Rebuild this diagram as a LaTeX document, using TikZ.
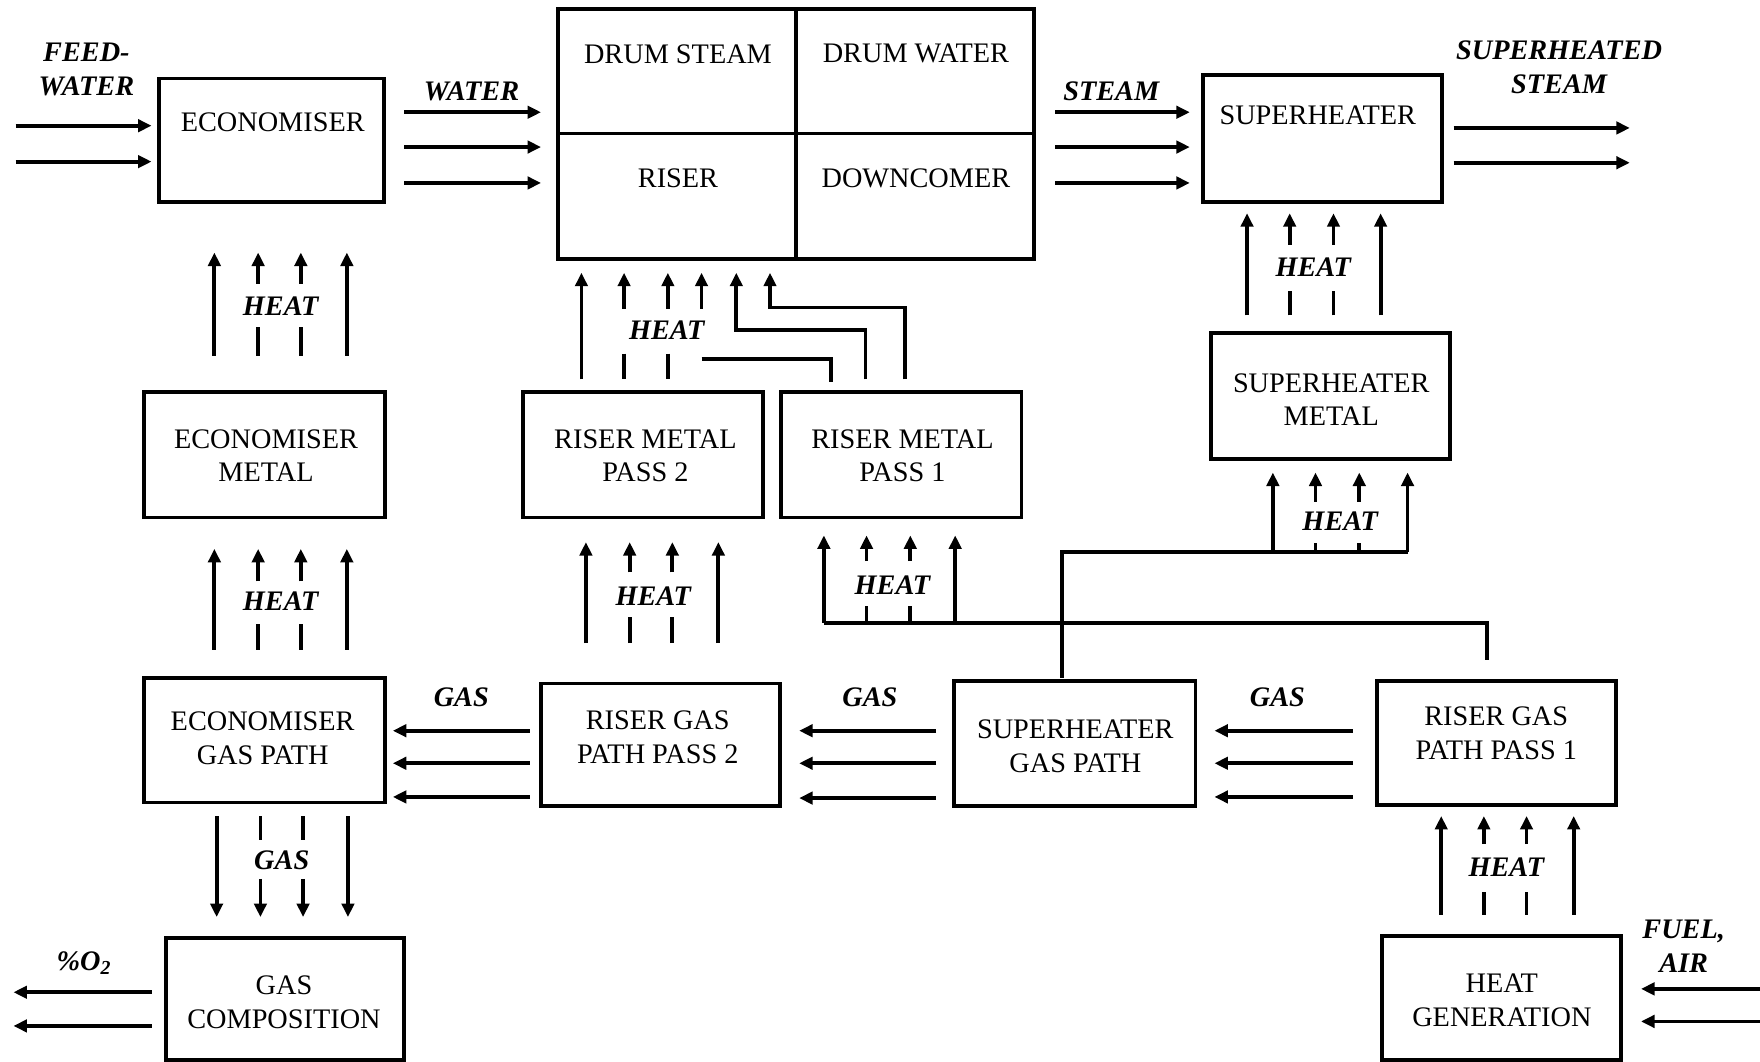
\documentclass[tikz,border=0pt]{standalone}
\usepackage{fontspec}
\setmainfont{Liberation Serif}
\usetikzlibrary{arrows.meta}
\newcommand\mybox[8]{%
  \node[box, minimum width={(#4-#2)*0.5pt}, minimum height={(#5-#3)*0.5pt}] (#1) at ({(#2+#4)/2},{(#3+#5)/2}) {};
  \node[txt] (#1-t) at (#6,#7) {#8};}
\newcommand\heatbundle[9]{%
  \draw[arr] (#1,#6)--(#1,#5); \draw[arr] (#4,#6)--(#4,#5);
  \draw[arr] (#2,#7)--(#2,#5); \draw[arr] (#3,#7)--(#3,#5);
  \draw[ln] (#2,#6)--(#2,#8); \draw[ln] (#3,#6)--(#3,#8);
  \node[lbl] at (#9) {HEAT};}
\begin{document}
\begin{tikzpicture}[x=0.5pt,y=-0.5pt,
  box/.style={draw, line width=1.7pt, inner sep=0pt},
  txt/.style={font=\fontsize{12.6}{15}\selectfont, align=center, inner sep=0pt},
  lbl/.style={font=\fontsize{12.6}{15}\selectfont\bfseries\itshape, align=center, inner sep=0pt},
  ln/.style={line width=1.7pt},
  arr/.style={line width=1.7pt, -{Triangle[length=6pt,width=5.5pt]}},
]
\useasboundingbox (0,0) rectangle (1568,946);

% boxes
\mybox{eco}{142}{70}{342}{180}{243}{109}{ECONOMISER}
\mybox{ds}{497}{8}{709}{119}{604}{48}{DRUM STEAM}
\mybox{dw}{709}{8}{921}{119}{816}{48}{DRUM WATER}
\mybox{ri}{497}{119}{709}{231}{604}{159}{RISER}
\mybox{dc}{709}{119}{921}{231}{816}{159}{DOWNCOMER}
\mybox{sh}{1072}{67}{1285}{180}{1174}{103}{SUPERHEATER}
\mybox{ecom}{128}{349}{343}{461}{237}{406}{ECONOMISER\\METAL}
\mybox{rm2}{466}{349}{680}{461}{575}{406}{RISER METAL\\PASS 2}
\mybox{rm1}{696}{349}{910}{461}{804}{406}{RISER METAL\\PASS 1}
\mybox{shm}{1079}{297}{1292}{409}{1186}{356}{SUPERHEATER\\METAL}
\mybox{egp}{128}{604}{343}{715}{234}{658}{ECONOMISER\\GAS PATH}
\mybox{rgp2}{482}{609}{695}{718}{586}{657}{RISER GAS\\PATH PASS 2}
\mybox{shgp}{850}{607}{1065}{718}{958}{665}{SUPERHEATER\\GAS PATH}
\mybox{rgp1}{1227}{607}{1440}{717}{1333}{653}{RISER GAS\\PATH PASS 1}
\mybox{hg}{1231}{834}{1444}{944}{1338}{891}{HEAT\\GENERATION}
\mybox{gc}{148}{836}{360}{944}{253}{893}{GAS\\COMPOSITION}

% stream labels
\node[lbl] at (77,62) {FEED-\\WATER};
\node[lbl] at (420,81) {WATER};
\node[lbl] at (990,81) {STEAM};
\node[lbl] at (1389,60) {SUPERHEATED\\STEAM};
\node[lbl] at (411,621) {GAS};
\node[lbl] at (775,621) {GAS};
\node[lbl] at (1138,621) {GAS};
\node[lbl] at (75,858) {\%O\textsubscript{2}};
\node[lbl] at (1500,843) {FUEL,\\AIR};

% horizontal flows
\foreach \y in {112,144} \draw[arr] (14,\y) -- (135,\y);
\foreach \y in {100,131,163} \draw[arr] (360,\y) -- (482,\y);
\foreach \y in {100,131,163} \draw[arr] (940,\y) -- (1060,\y);
\foreach \y in {114,145} \draw[arr] (1295,\y) -- (1452,\y);
\foreach \y in {651,680,710} \draw[arr] (472,\y) -- (350,\y);
\foreach \y in {651,680,711} \draw[arr] (834,\y) -- (712,\y);
\foreach \y in {651,680,710} \draw[arr] (1205,\y) -- (1082,\y);
\foreach \y in {884,914} \draw[arr] (135,\y) -- (12,\y);
\foreach \y in {881,910} \draw[arr] (1568,\y) -- (1462,\y);

% gas down to composition
\draw[arr] (193,727) -- (193,817);
\draw[arr] (310,727) -- (310,817);
\draw[ln] (232,727) -- (232,748); \draw[arr] (232,783) -- (232,817);
\draw[ln] (270,727) -- (270,748); \draw[arr] (270,783) -- (270,817);
\node[lbl] at (251,766) {GAS};

% heat bundles
\heatbundle{191}{230}{268}{309}{225}{317}{253}{291}{250,273}
\heatbundle{191}{230}{268}{309}{489}{579}{518}{556}{250,536}
\heatbundle{522}{561}{599}{640}{483}{573}{510}{550}{582,531}
\heatbundle{734}{772}{811}{851}{477}{555}{500}{540}{795,521}
\heatbundle{1134}{1172}{1211}{1254}{421}{492}{447}{484}{1194,464}
\heatbundle{1111}{1149}{1188}{1230}{190}{281}{218}{259}{1170,238}
\heatbundle{1284}{1322}{1360}{1402}{727}{815}{752}{795}{1342,773}

% buses from gas paths
\draw[ln] (734,555) -- (1325,555) -- (1325,588);
\draw[ln] (946,604) |- (1254,492);

% heat into riser
\draw[arr] (518,338) -- (518,243);
\draw[arr] (556,275) -- (556,243); \draw[ln] (556,315) -- (556,338);
\draw[arr] (595,275) -- (595,243); \draw[ln] (595,315) -- (595,338);
\draw[arr] (625,275) -- (625,243);
\draw[ln] (625,320) -- (740,320) -- (740,340);
\draw[arr] (771,338) -- (771,294) -- (656,294) -- (656,243);
\draw[arr] (806,338) -- (806,274) -- (686,274) -- (686,243);
\node[lbl] at (594,294) {HEAT};
\end{tikzpicture}
\end{document}
